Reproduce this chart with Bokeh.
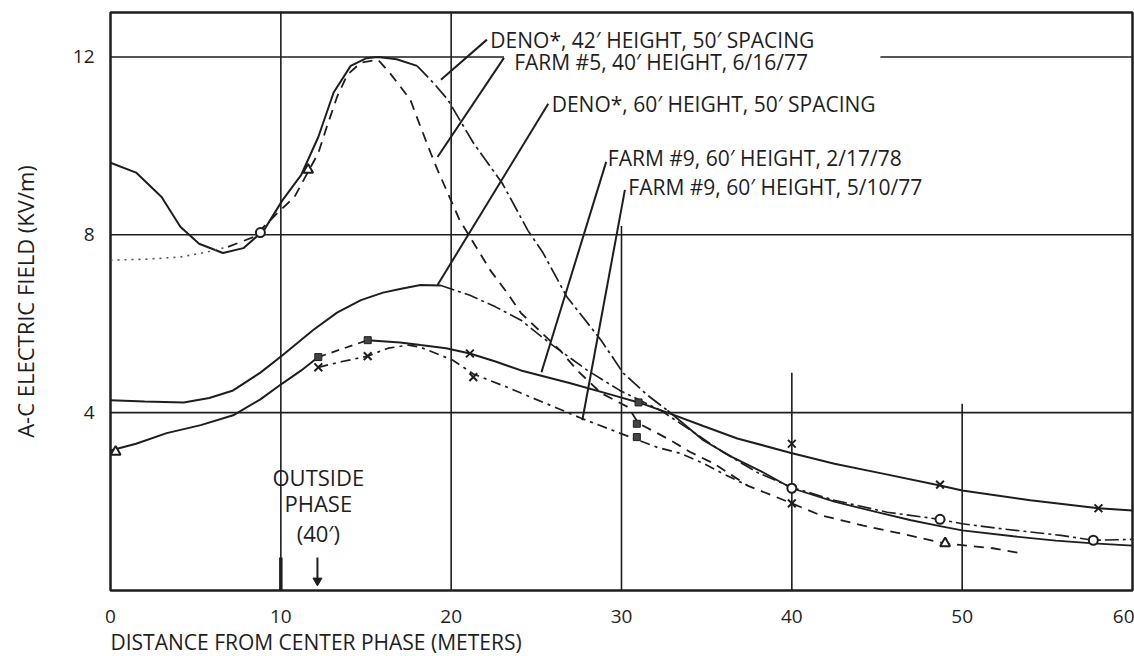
from bokeh.plotting import figure
from bokeh.models import FixedTicker, Title, Range1d
from bokeh.core.properties import value
from bokeh.embed import file_html
from bokeh.resources import INLINE

FONT = "Open Sans"
INK = "#1e1e1e"

# ---------------- data ----------------
x_ticks = [0, 10, 20, 30, 40, 50, 60]
y_ticks = [4, 8, 12]

# DENO*, 42' height, 50' spacing (theory)
deno42_rise_x = [0, 1.5, 3.0, 4.1, 5.2, 6.6, 7.8, 9.0, 10.1, 11.2, 12.2, 13.1, 14.1, 15.0, 15.7, 16.8, 18.0]
deno42_rise_y = [9.62, 9.4, 8.85, 8.18, 7.8, 7.59, 7.7, 8.1, 8.78, 9.35, 10.2, 11.2, 11.8, 11.97, 12.0, 11.95, 11.8]
deno42_fall_x = [18.0, 19.0, 19.8, 21.3, 23.0, 24.5, 25.4, 26.8, 28.8, 30.1, 31.5, 32.7]
deno42_fall_y = [11.8, 11.4, 11.04, 10.07, 9.16, 8.1, 7.59, 6.6, 5.63, 4.89, 4.4, 4.05]
deno42_tail_x = [32.7, 33.8, 34.8, 36.5, 38.2, 40, 42.5, 45, 47, 48.7, 50, 53, 55.5, 57.7, 60]
deno42_tail_y = [4.05, 3.7, 3.38, 3.0, 2.68, 2.3, 2.0, 1.76, 1.58, 1.45, 1.35, 1.22, 1.12, 1.06, 1.01]

# DENO*, 60' height, 50' spacing (theory)
deno60_rise_x = [0, 2, 4.3, 5.8, 7.2, 8.8, 10.1, 11.9, 13.3, 14.7, 16, 17, 18.2, 19.4]
deno60_rise_y = [4.28, 4.25, 4.23, 4.33, 4.5, 4.9, 5.29, 5.86, 6.25, 6.53, 6.7, 6.78, 6.87, 6.86]
deno60_fall_x = [19.4, 21.1, 22.6, 24.1, 25.8, 28, 29.9, 32.3, 34, 36, 38, 40, 42.5, 45.6, 48.7, 50, 52.5, 55.8, 57.7, 60]
deno60_fall_y = [6.86, 6.64, 6.38, 6.08, 5.56, 4.95, 4.5, 4.05, 3.62, 3.1, 2.65, 2.32, 2.03, 1.76, 1.6, 1.5, 1.38, 1.24, 1.13, 1.15]

# FARM #5, 40' height, 6/16/77 (measured)
farm5_x = [0, 2, 4.1, 5.5, 6.9, 8.4, 9.8, 10.8, 12.2, 12.7, 13.3, 13.9, 14.7, 15.7, 16.4, 17.6, 18.2, 18.8,
           19.2, 19.8, 20.5, 22.3, 23.3, 24.1, 26.4, 27.4, 28.8, 30.4, 31.0, 32.1, 33.1, 34.0, 35.4, 37.4,
           40, 41.7, 44.2, 46.4, 49, 51.8, 53.6]
farm5_y = [7.43, 7.45, 7.5, 7.6, 7.73, 7.95, 8.49, 8.85, 9.84, 10.43, 11.1, 11.6, 11.87, 11.94, 11.64, 11.04,
           10.43, 9.84, 9.46, 8.94, 8.33, 7.2, 6.69, 6.24, 5.4, 4.95, 4.44, 4.12, 3.76, 3.54, 3.33, 3.12, 2.86,
           2.36, 1.96, 1.69, 1.46, 1.28, 1.06, 0.95, 0.83]

# FARM #9, 60' height, 2/17/78 (measured)
farm9a_x = [0, 1.5, 3.3, 5.3, 7.2, 8.8, 10.1, 11.2, 12.2, 15.1, 17, 18.2, 19.7, 21.1, 22.6, 24.1, 27, 29.9,
            31, 32.7, 34.8, 36.8, 39.9, 42.5, 45.2, 48.7, 50, 54, 58, 60]
farm9a_y = [3.15, 3.3, 3.54, 3.72, 3.94, 4.3, 4.66, 4.95, 5.25, 5.63, 5.58, 5.52, 5.45, 5.33, 5.15, 4.95, 4.66,
            4.35, 4.23, 4.0, 3.7, 3.42, 3.1, 2.85, 2.64, 2.36, 2.25, 2.03, 1.85, 1.8]

# FARM #9, 60' height, 5/10/77 (measured)
farm9b_x = [12.2, 13.6, 15.1, 16.3, 17.5, 18.2, 19.2, 20.1, 21.3, 23.3, 24.1, 25.8, 27.6, 29.9, 32.1, 33.5,
            34.8, 36, 37.4]
farm9b_y = [5.02, 5.15, 5.27, 5.45, 5.52, 5.47, 5.32, 5.18, 4.87, 4.57, 4.44, 4.17, 3.88, 3.54, 3.22, 3.08,
            2.86, 2.62, 2.36]

# plotted data symbols
xmark_x = [12.2, 15.1, 21.1, 21.3, 40, 40, 48.7, 58]
xmark_y = [5.02, 5.27, 5.33, 4.8, 3.3, 1.96, 2.38, 1.85]
omark_x = [8.8, 40, 48.7, 57.7]
omark_y = [8.05, 2.3, 1.6, 1.13]
tri_x = [11.6, 49.0, 0.3]
tri_y = [9.46, 1.06, 3.12]
dot_x = [12.2, 15.1, 31.0, 30.9, 30.9]
dot_y = [5.25, 5.63, 4.23, 3.75, 3.45]

# grid pieces
hgrid_y = [4, 8, 12, 12]
hgrid_x0 = [0, 0, 0, 45.2]
hgrid_x1 = [60, 60, 23.1, 60]
vgrid_x = [10, 20, 30, 40, 50]
vgrid_top = [13, 13, 8.2, 4.9, 4.2]

# curve labels and leaders
label_text = ["DENO*, 42\u2032 HEIGHT, 50\u2032 SPACING",
              "FARM #5, 40\u2032 HEIGHT, 6/16/77",
              "DENO*, 60\u2032 HEIGHT, 50\u2032 SPACING",
              "FARM #9, 60\u2032 HEIGHT, 2/17/78",
              "FARM #9, 60\u2032 HEIGHT, 5/10/77"]
label_x = [22.3, 23.7, 25.9, 29.2, 30.4]
label_y = [12.39, 11.89, 10.95, 9.73, 9.08]
leader_x0 = [22.1, 23.1, 25.7, 29.1, 30.2]
leader_y0 = [12.39, 11.98, 10.95, 9.64, 9.01]
leader_x1 = [19.4, 19.2, 19.2, 25.3, 27.7]
leader_y1 = [11.49, 9.75, 6.87, 4.91, 3.83]

note_text = ["OUTSIDE", "PHASE", "(40\u2032)"]
note_x = [12.2, 12.2, 12.2]
note_y = [2.55, 1.96, 1.3]
phase_x = [10]
phase_top = [0.74]
arrow_x = [12.15]
arrow_top = [0.74]
arrow_tip = [0.22]

# ---------------- figure ----------------
p = figure(width=1134, height=656, x_range=Range1d(0, 60), y_range=Range1d(0, 13),
           output_backend="svg", toolbar_location=None,
           min_border_left=110, min_border_right=2, min_border_top=12, min_border_bottom=66)
p.xgrid.visible = False
p.ygrid.visible = False
p.background_fill_color = "white"
p.border_fill_color = "white"
p.outline_line_color = INK
p.outline_line_width = 2.5

for ax in (p.xaxis[0], p.yaxis[0]):
    ax.axis_line_color = None
    ax.major_tick_line_color = None
    ax.minor_tick_line_color = None
    ax.major_label_text_font = FONT
    ax.major_label_text_font_size = "19px"
    ax.major_label_text_color = INK

p.xaxis.ticker = FixedTicker(ticks=x_ticks)
p.yaxis.ticker = FixedTicker(ticks=y_ticks)
p.xaxis.major_label_standoff = 13
p.yaxis.major_label_standoff = 10
p.yaxis.major_label_text_baseline = "alphabetic"
p.yaxis.axis_label = "A-C ELECTRIC FIELD (KV/m)"
p.yaxis.axis_label_text_font = FONT
p.yaxis.axis_label_text_font_size = "22px"
p.yaxis.axis_label_text_font_style = "normal"
p.yaxis.axis_label_text_color = INK
p.yaxis.axis_label_standoff = 30

p.add_layout(Title(text="DISTANCE FROM CENTER PHASE (METERS)", align="left", standoff=0,
                   text_font=FONT, text_font_size="21px", text_font_style="normal",
                   text_color=INK), "below")

# grid
p.segment(x0=hgrid_x0, y0=hgrid_y, x1=hgrid_x1, y1=hgrid_y, line_color=INK, line_width=1.6)
p.segment(x0=vgrid_x, y0=[0] * len(vgrid_x), x1=vgrid_x, y1=vgrid_top, line_color=INK, line_width=1.6)

# curves
p.line(deno42_rise_x, deno42_rise_y, line_color=INK, line_width=2)
p.line(deno42_fall_x, deno42_fall_y, line_color=INK, line_width=1.7, line_dash="16 4 3 4")
p.line(deno42_tail_x, deno42_tail_y, line_color=INK, line_width=1.8)

p.line(deno60_rise_x, deno60_rise_y, line_color=INK, line_width=2)
p.line(deno60_fall_x, deno60_fall_y, line_color=INK, line_width=1.6, line_dash="14 4 3 4")

p.line(farm5_x[:5], farm5_y[:5], line_color="#555555", line_width=1.6, line_dash="2 5")
p.line(farm5_x[4:], farm5_y[4:], line_color=INK, line_width=1.8, line_dash="10 7")

p.line(farm9a_x[:9], farm9a_y[:9], line_color=INK, line_width=2)
p.line(farm9a_x[8:10], farm9a_y[8:10], line_color=INK, line_width=1.8, line_dash="8 6")
p.line(farm9a_x[9:], farm9a_y[9:], line_color=INK, line_width=2)

p.line(farm9b_x, farm9b_y, line_color=INK, line_width=1.7, line_dash="10 5 3 5")

# symbols
p.scatter(xmark_x, xmark_y, marker="x", size=11, line_color=INK, line_width=2)
p.scatter(omark_x, omark_y, marker="circle", size=9, line_color=INK, fill_color="white", line_width=2)
p.scatter(tri_x, tri_y, marker="triangle", size=10, line_color=INK, fill_color="white", line_width=2)
p.scatter(dot_x, dot_y, marker="square", size=7, line_color=INK, fill_color="#444444", line_width=1)

# labels and leaders
p.segment(x0=leader_x0, y0=leader_y0, x1=leader_x1, y1=leader_y1, line_color=INK, line_width=2)
p.text(x=label_x, y=label_y, text=label_text, text_font=value(FONT), text_font_size="21px",
       text_color=INK, text_align="left", text_baseline="middle")

# outside phase note
p.text(x=note_x, y=note_y, text=note_text, text_font=value(FONT), text_font_size="22px",
       text_color=INK, text_align="center", text_baseline="middle")
p.segment(x0=phase_x, y0=[0], x1=phase_x, y1=phase_top, line_color=INK, line_width=3.5)
p.segment(x0=arrow_x, y0=arrow_top, x1=arrow_x, y1=arrow_tip, line_color=INK, line_width=2)
p.scatter(arrow_x, arrow_tip, marker="inverted_triangle", size=9, line_color=INK, fill_color=INK)

open("out.html", "w").write(file_html(p, INLINE))
